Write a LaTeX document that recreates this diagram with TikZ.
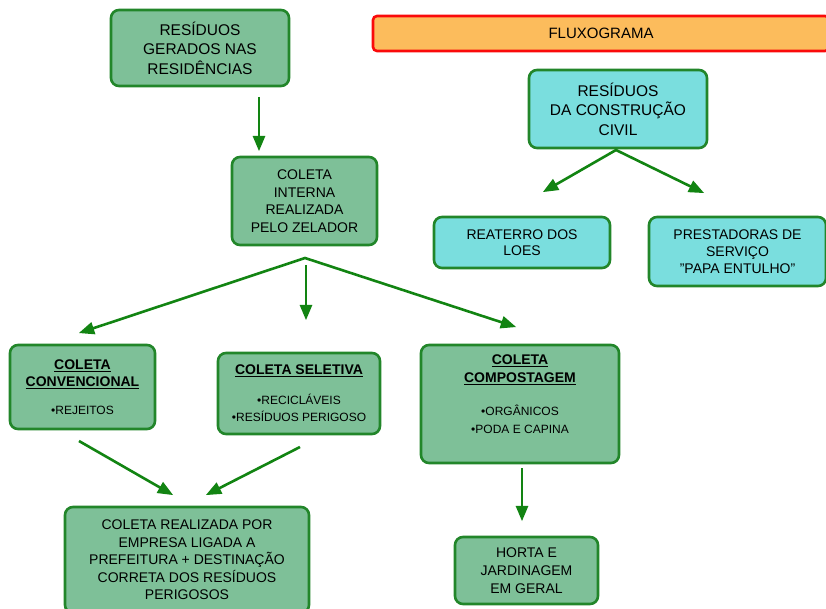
\documentclass[tikz,border=0pt]{standalone}
\usepackage{fontspec}
\setmainfont{Liberation Sans}
\usetikzlibrary{arrows}

\definecolor{boxgreen}{RGB}{126,192,152}
\definecolor{boxline}{RGB}{34,134,42}
\definecolor{boxcyan}{RGB}{122,222,222}
\definecolor{arrowgreen}{RGB}{18,132,18}
\definecolor{bandfill}{RGB}{252,188,92}
\definecolor{bandline}{RGB}{250,10,10}

\newcommand{\ttl}[1]{\underline{\textbf{#1}}}

\begin{document}
\begin{tikzpicture}[
x=1pt, y=-1pt,
box/.style={rounded corners=8pt, line width=2.6pt, draw=boxline, fill=boxgreen,
  align=center, inner sep=0pt, font=\fontsize{14}{17.5}\selectfont},
bigbox/.style={box, font=\fontsize{15.5}{19.5}\selectfont},
cyanbox/.style={box, fill=boxcyan},
band/.style={rounded corners=4pt, line width=2.6pt, draw=bandline, fill=bandfill,
  inner sep=0pt, font=\fontsize{15}{17}\selectfont},
head/.style={font=\fontsize{14}{17.5}\selectfont},
arrow/.style={-triangle 45, line width=2.6pt, draw=arrowgreen},
twoarrow/.style={triangle 45-triangle 45, line width=2.6pt, draw=arrowgreen, line join=miter}
]

%% Box
\useasboundingbox (0,0) rectangle (826,609);

\def\itm{\fontsize{12}{15}\selectfont}	% size of the items

% % Left
\node[bigbox, minimum width=178, minimum height=76] (res) at (200,48)
  {RESÍDUOS\\GERADOS NAS\\RESIDÊNCIAS};
\node[box, minimum width=145, minimum height=88] (int) at (304.5,201)
  {COLETA\\INTERNA\\REALIZADA\\PELO ZELADOR};

\node[box, head, minimum width=145, minimum height=84] (conv) at (82.5,387)
  {\ttl{COLETA}\\\ttl{CONVENCIONAL}\\[10pt]{\itm •REJEITOS}};
\node[box, head, minimum width=162, minimum height=81] (sel) at (299,393.5)
  {\ttl{COLETA SELETIVA}\\[12pt]{\itm •RECICLÁVEIS}\\{\itm •RESÍDUOS PERIGOSO}};
\node[box, head, minimum width=198, minimum height=118] (comp) at (520,404)
  {\ttl{COLETA}\\\ttl{COMPOSTAGEM}\\[16pt]{\itm •ORGÂNICOS}\\{\itm •PODA E CAPINA}\\[2pt]~};

\node[box, minimum width=244, minimum height=106] (pref) at (187,560)
  {COLETA REALIZADA POR\\EMPRESA LIGADA A\\PREFEITURA + DESTINAÇÃO\\CORRETA DOS RESÍDUOS\\PERIGOSOS};
\node[box, font=\fontsize{14}{18}\selectfont, minimum width=143, minimum height=67] (horta) at (526.5,570.5)
  {HORTA E\\JARDINAGEM\\EM GERAL};

% % Right
\node[band, minimum width=456, minimum height=35] (fluxo) at (601,33.5) {FLUXOGRAMA};
\node[bigbox, fill=boxcyan, minimum width=178, minimum height=78] (civil) at (618,109)
  {RESÍDUOS\\DA CONSTRUÇÃO\\CIVIL};
\node[cyanbox, font=\fontsize{14}{16}\selectfont, minimum width=176, minimum height=51] (reat) at (522,242.5)
  {REATERRO DOS\\LOES};
\node[cyanbox, font=\fontsize{14}{17}\selectfont, minimum width=177, minimum height=69] (prest) at (737.5,251.5)
  {PRESTADORAS DE\\SERVIÇO\\"PAPA ENTULHO"};

% % Arrows
\coordinate (resA) at (259,97);
\coordinate (resB) at (259,151);
\draw[arrow] (resA) -- (resB);

\coordinate (intA) at (305,258);
\coordinate (intB) at (306,265);
\coordinate (convB) at (79,333);
\coordinate (selB) at (306,320);
\coordinate (compB) at (516,327);
\draw[twoarrow] (convB) -- (intA) -- (compB);
\draw[arrow] (intB) -- (selB);

\coordinate (convA) at (79,441);
\coordinate (selA) at (300,447);
\coordinate (prefL) at (173,495);
\coordinate (prefR) at (206,495);
\draw[arrow] (convA) -- (prefL);
\draw[arrow] (selA) -- (prefR);

\coordinate (compA) at (522,468);
\coordinate (hortaB) at (522,521);
\draw[arrow] (compA) -- (hortaB);

\coordinate (civA) at (616,150);
\coordinate (reatB) at (543,192);
\coordinate (prestB) at (704,193);
\draw[twoarrow] (reatB) -- (civA) -- (prestB);

\end{tikzpicture}
\end{document}
